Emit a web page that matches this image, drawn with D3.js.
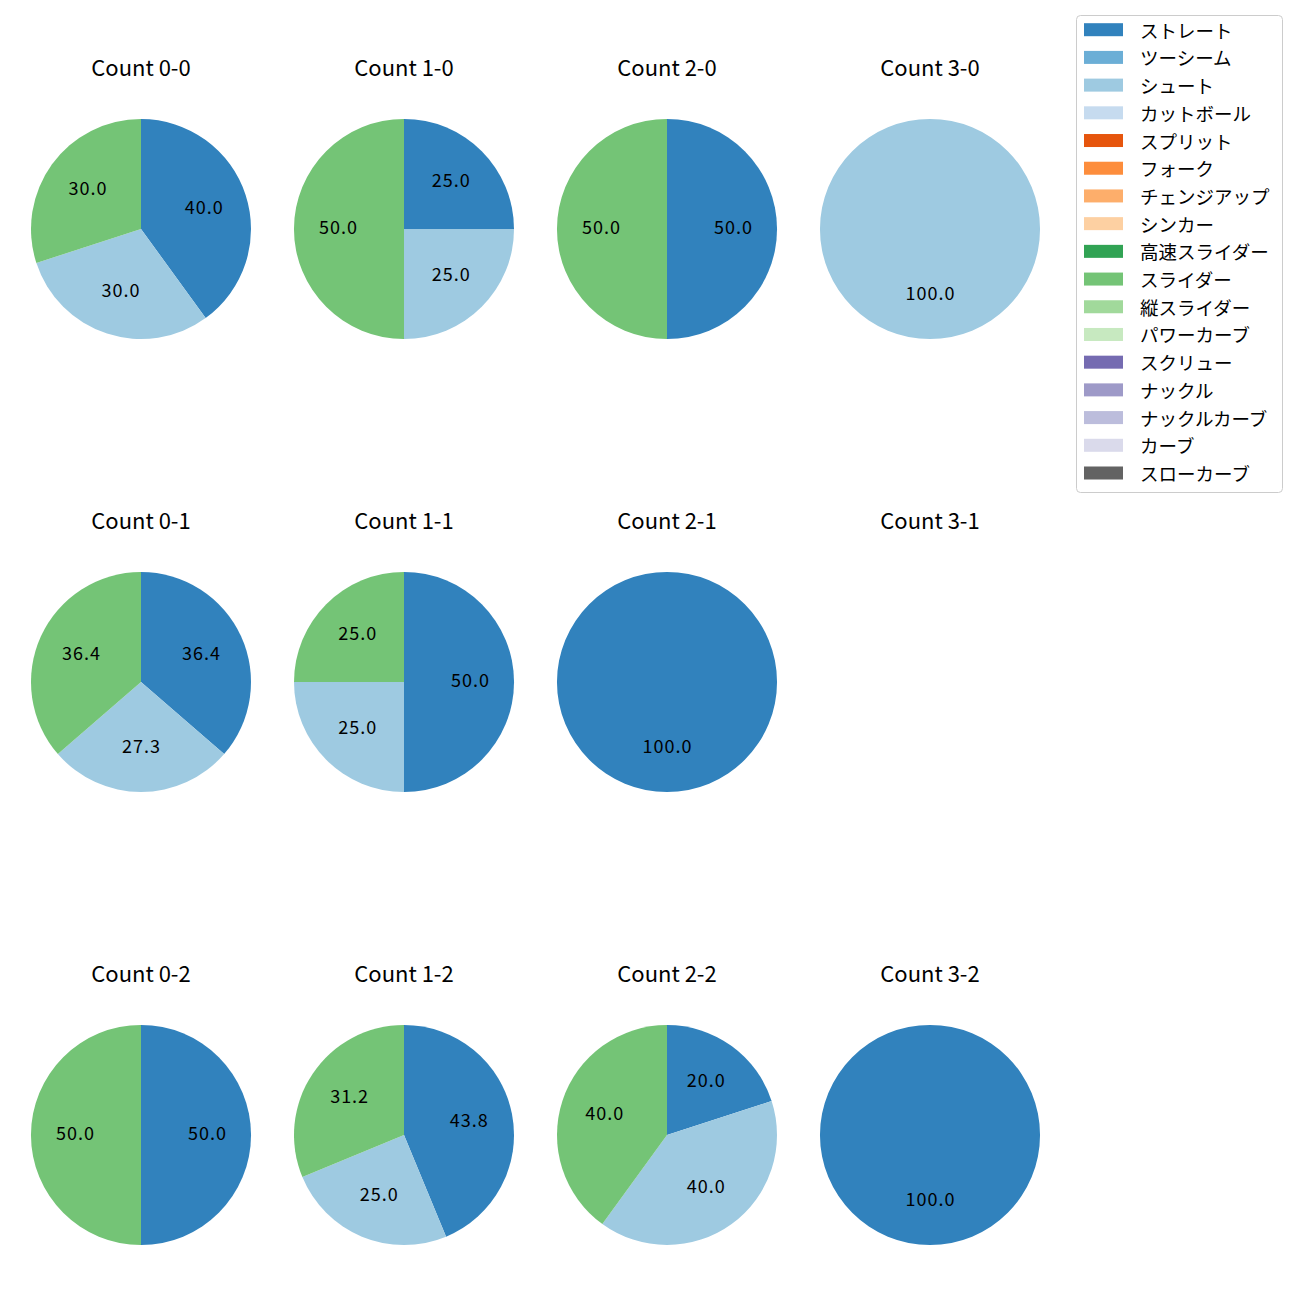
<!DOCTYPE html>
<html>
<head>
<meta charset="utf-8">
<script src="https://cdn.jsdelivr.net/npm/d3@7"></script>
<style>
  html, body { margin: 0; padding: 0; background: #ffffff; }
  svg { display: block; }
  text { font-family: "Noto Sans CJK JP", "Noto Sans", sans-serif; fill: #000; }
</style>
</head>
<body>
<div id="chart"></div>
<script>
// ---- data ----
const counts = ["0-0", "1-0", "2-0", "3-0", "0-1", "1-1", "2-1", "3-1", "0-2", "1-2", "2-2", "3-2"];
const pitchTypes = ["ストレート", "ツーシーム", "シュート", "カットボール", "スプリット", "フォーク", "チェンジアップ", "シンカー", "高速スライダー", "スライダー", "縦スライダー", "パワーカーブ", "スクリュー", "ナックル", "ナックルカーブ", "カーブ", "スローカーブ"];
const pitchColors = ["#3182bd", "#6baed6", "#9ecae1", "#c6dbef", "#e6550d", "#fd8d3c", "#fdae6b", "#fdd0a2", "#31a354", "#74c476", "#a1d99b", "#c7e9c0", "#756bb1", "#9e9ac8", "#bcbddc", "#dadaeb", "#636363"];
// pitch counts per ball-strike count (same order as counts)
const straight = [4, 1, 1, 0, 4, 2, 1, 0, 1, 7, 1, 1];
const shoot    = [3, 1, 0, 1, 3, 1, 0, 0, 0, 4, 2, 0];
const slider   = [3, 2, 1, 0, 4, 1, 0, 0, 1, 5, 2, 0];

const seriesByType = { "ストレート": straight, "シュート": shoot, "スライダー": slider };

// Python-style "%.1f" (round half to even on exact binary halves)
function fmt1(x) {
  const s = x * 10;
  const f = Math.floor(s);
  const diff = s - f;
  let r;
  if (diff === 0.5) r = (f % 2 === 0) ? f : f + 1;
  else r = Math.round(s);
  return (r / 10).toFixed(1);
}

// ---- layout ----
const W = 1300, H = 1300;
const svg = d3.select("#chart").append("svg").attr("width", W).attr("height", H);

const colScale = d3.scalePoint().domain([0, 1, 2, 3]).range([141, 930]);
const rowScale = d3.scalePoint().domain([0, 1, 2]).range([229, 1135]);
const radius = 110;
const color = d3.scaleOrdinal().domain(pitchTypes).range(pitchColors);

const pie = d3.pie().sort(null).value(d => d.value);
const arc = d3.arc().innerRadius(0).outerRadius(radius);
const labelArc = d3.arc().innerRadius(radius * 0.6).outerRadius(radius * 0.6);

counts.forEach((c, i) => {
  const col = i % 4, row = Math.floor(i / 4);
  const g = svg.append("g").attr("transform", `translate(${colScale(col)},${rowScale(row)})`);
  g.append("text")
    .attr("x", 0).attr("y", -153)
    .attr("text-anchor", "middle")
    .style("font-size", "22px")
    .text("Count " + c);
  const data = pitchTypes
    .filter(t => seriesByType[t] && seriesByType[t][i] > 0)
    .map(t => ({ type: t, value: seriesByType[t][i] }));
  if (!data.length) return;
  const total = d3.sum(data, d => d.value);
  const arcs = pie(data);
  g.selectAll("path").data(arcs).join("path")
    .attr("d", arc)
    .attr("fill", d => color(d.data.type));
  g.selectAll("text.lbl").data(arcs).join("text")
    .attr("class", "lbl")
    .attr("transform", d => `translate(${labelArc.centroid(d)})`)
    .attr("text-anchor", "middle")
    .attr("dominant-baseline", "central")
    .attr("dx", 0.5)
    .attr("dy", -3)
    .style("font-size", "18px")
    .style("letter-spacing", "1px")
    .text(d => fmt1(100 * d.value / total));
});

// ---- legend ----
const legend = svg.append("g");
const legY = d3.scaleLinear().domain([0, pitchTypes.length - 1]).range([29.7, 473]);
legend.append("rect")
  .attr("x", 1076.5).attr("y", 15.5).attr("width", 206).attr("height", 477)
  .attr("rx", 4).attr("fill", "#fff").attr("stroke", "#cccccc").attr("stroke-width", 1);
pitchTypes.forEach((t, i) => {
  legend.append("rect")
    .attr("x", 1084).attr("y", legY(i) - 6.5).attr("width", 39).attr("height", 13)
    .attr("fill", color(t));
  legend.append("text")
    .attr("x", 1140).attr("y", legY(i))
    .attr("dominant-baseline", "central")
    .style("font-size", "18.5px")
    .text(t);
});
</script>
</body>
</html>
